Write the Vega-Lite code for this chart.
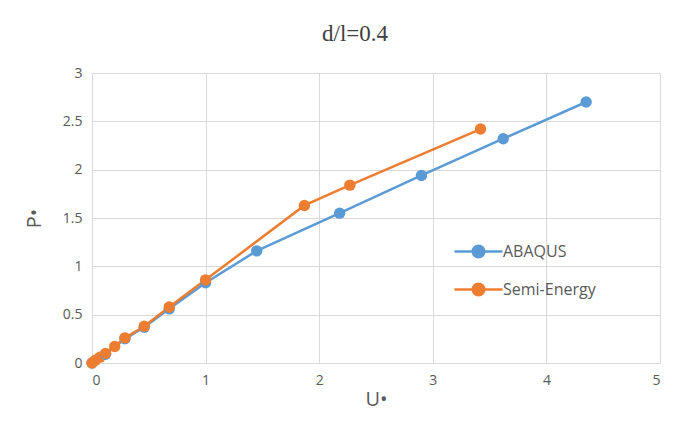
{
  "$schema": "https://vega.github.io/schema/vega-lite/v6.json",
  "width": 568,
  "height": 290,
  "autosize": {"type": "none"},
  "padding": {"left": 92, "top": 73, "right": 21, "bottom": 63},
  "background": "white",
  "title": {"text": "d/l=0.4", "font": "Liberation Serif", "fontSize": 23, "fontWeight": "normal", "color": "#404040", "offset": 20, "dx": -21},
  "config": {
    "view": {"stroke": null},
    "axis": {"gridColor": "#d9d9d9", "gridWidth": 1, "domain": false, "ticks": false, "labelColor": "#595959", "labelFont": "Open Sans", "labelFontSize": 14, "titleFont": "Open Sans", "titleFontWeight": "normal", "titleColor": "#595959", "titleFontSize": 20}
  },
  "data": {"values": [
    {"s": "ABAQUS", "u": 0, "p": 0},
    {"s": "ABAQUS", "u": 0.12, "p": 0.09},
    {"s": "ABAQUS", "u": 0.29, "p": 0.25},
    {"s": "ABAQUS", "u": 0.46, "p": 0.37},
    {"s": "ABAQUS", "u": 0.68, "p": 0.56},
    {"s": "ABAQUS", "u": 1.0, "p": 0.83},
    {"s": "ABAQUS", "u": 1.45, "p": 1.16},
    {"s": "ABAQUS", "u": 2.18, "p": 1.55},
    {"s": "ABAQUS", "u": 2.9, "p": 1.94},
    {"s": "ABAQUS", "u": 3.62, "p": 2.32},
    {"s": "ABAQUS", "u": 4.35, "p": 2.7},
    {"s": "Semi-Energy", "u": 0, "p": 0},
    {"s": "Semi-Energy", "u": 0.03, "p": 0.03},
    {"s": "Semi-Energy", "u": 0.07, "p": 0.06},
    {"s": "Semi-Energy", "u": 0.12, "p": 0.1},
    {"s": "Semi-Energy", "u": 0.2, "p": 0.17},
    {"s": "Semi-Energy", "u": 0.29, "p": 0.26},
    {"s": "Semi-Energy", "u": 0.46, "p": 0.38},
    {"s": "Semi-Energy", "u": 0.68, "p": 0.58},
    {"s": "Semi-Energy", "u": 1.0, "p": 0.86},
    {"s": "Semi-Energy", "u": 1.87, "p": 1.63},
    {"s": "Semi-Energy", "u": 2.27, "p": 1.84},
    {"s": "Semi-Energy", "u": 3.42, "p": 2.42}
  ]},
  "encoding": {
    "x": {"field": "u", "type": "quantitative", "scale": {"domain": [0, 5], "nice": false}, "axis": {"values": [0, 1, 2, 3, 4, 5], "title": "U•", "titlePadding": 2, "labelPadding": 10}},
    "y": {"field": "p", "type": "quantitative", "scale": {"domain": [0, 3], "nice": false}, "axis": {"values": [0, 0.5, 1, 1.5, 2, 2.5, 3], "format": ".1~f", "title": "P•", "titlePadding": 18, "labelPadding": 10}},
    "color": {"field": "s", "type": "nominal", "scale": {"domain": ["ABAQUS", "Semi-Energy"], "range": ["#5B9BD5", "#ED7D31"]},
      "legend": {"title": null, "orient": "none", "legendX": 366, "legendY": 158, "symbolType": "M-1.25,0L-0.3,0M0.3,0L1.25,0M-0.3,0A0.3,0.3 0 1,0 0.3,0A0.3,0.3 0 1,0 -0.3,0", "symbolSize": 1475, "symbolStrokeWidth": 2.5, "labelFont": "Open Sans", "labelFontSize": 16, "labelColor": "#595959", "rowPadding": 6, "labelOffset": 4}},
    "order": {"field": "u", "type": "quantitative"}
  },
  "layer": [
    {"mark": {"type": "line", "strokeWidth": 2.5}},
    {"mark": {"type": "circle", "size": 130, "opacity": 1}}
  ]
}
